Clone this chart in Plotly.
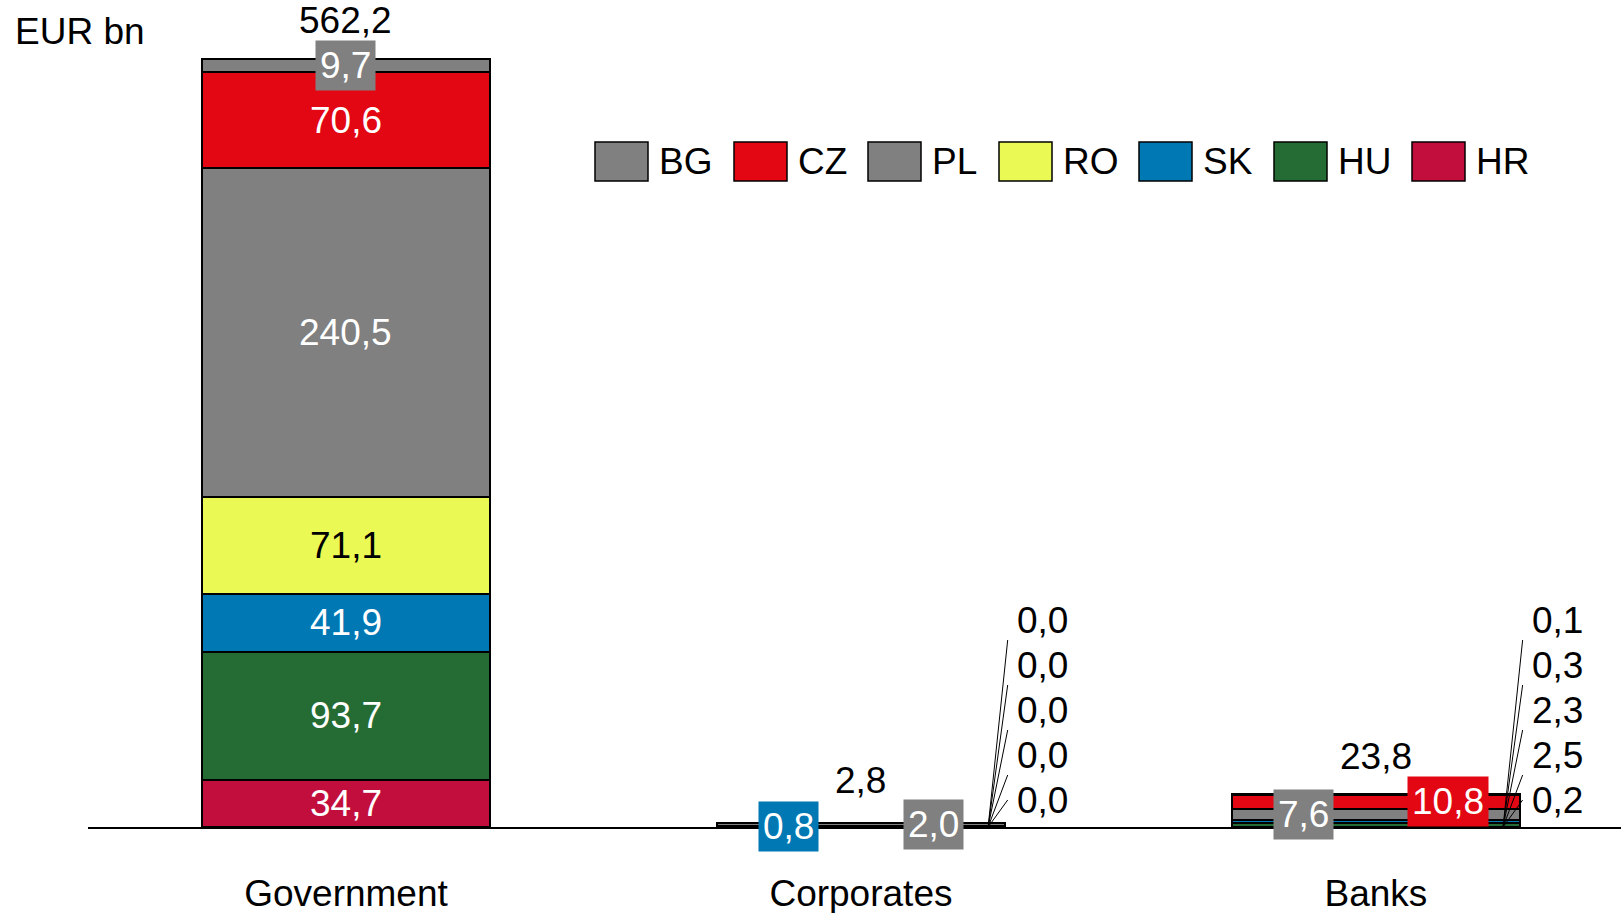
import plotly.graph_objects as go

# Exposure by sector, EUR bn
categories = ["Government", "Corporates", "Banks"]
hr = [34.7, 0.0, 0.2]
hu = [93.7, 0.0, 2.5]
sk = [41.9, 0.8, 2.3]
ro = [71.1, 0.0, 0.3]
pl = [240.5, 2.0, 7.6]
cz = [70.6, 0.0, 10.8]
bg = [9.7, 0.0, 0.1]
totals = [562.2, 2.8, 23.8]

# stacking order, bottom to top
stack = [("HR", hr), ("HU", hu), ("SK", sk), ("RO", ro), ("PL", pl), ("CZ", cz), ("BG", bg)]
legend_order = ["BG", "CZ", "PL", "RO", "SK", "HU", "HR"]

colors = {
    "BG": "#808080",
    "CZ": "#E30613",
    "PL": "#808080",
    "RO": "#EBF954",
    "SK": "#0078B4",
    "HU": "#246C34",
    "HR": "#C20E3C",
}

# labels drawn in a box beside the bar (left, right); the rest use leader lines
boxed_side = {1: ("SK", "PL"), 2: ("PL", "CZ")}

FONT = "Liberation Sans, Arial, sans-serif"
FS = 37

# plot geometry (pixels)
W, H = 1621, 913
ML, MR, MT, MB = 88, 0, 7, 86
PW, PH = W - ML - MR, H - MT - MB
Y_MAX = 600
X_RANGE = [-0.501, 2.476]
PX_PER_UNIT = PH / Y_MAX


def fmt(v):
    return f"{v:.1f}".replace(".", ",")


def px_to_units(p):
    return p / PX_PER_UNIT


def paper_x(px):
    return (px - ML) / PW


def paper_y(py):
    return (H - MB - py) / PH


fig = go.Figure()
xs = list(range(len(categories)))
for name, vals in stack:
    fig.add_trace(go.Bar(
        x=xs, y=vals, name=name, width=0.56,
        marker=dict(color=colors[name], line=dict(color="black", width=2)),
        showlegend=False, hoverinfo="skip",
    ))

annotations = []
shapes = []

# segment midpoints
mids = {}
for i in xs:
    base = 0.0
    for name, vals in stack:
        v = vals[i]
        mids[(name, i)] = base + v / 2
        base += v

# Government: labels inside each segment
for name, vals in stack:
    v = vals[0]
    boxed = name == "BG"
    annotations.append(dict(
        x=0, y=mids[(name, 0)], text=fmt(v), showarrow=False,
        font=dict(family=FONT, size=FS, color="black" if name == "RO" else "white"),
        bgcolor=colors[name] if boxed else None, borderpad=4,
        xanchor="center", yanchor="middle",
    ))

# Corporates and Banks: boxed labels beside the bar and leader-line labels
for i, (left, right) in boxed_side.items():
    for name, dx in ((left, -0.14), (right, 0.14)):
        v = dict(stack)[name][i]
        annotations.append(dict(
            x=i + dx, y=mids[(name, i)], text=fmt(v), showarrow=False,
            font=dict(family=FONT, size=FS, color="white"),
            bgcolor=colors[name], borderpad=4,
            xanchor="center", yanchor="middle",
        ))
    small = [name for name, _ in stack if name not in (left, right)]
    for k, name in enumerate(small):
        v = dict(stack)[name][i]
        centre_px = 27 + 45 * k
        end_px = centre_px if k == 0 else centre_px - 20
        shapes.append(dict(
            type="line", xref="x", yref="y",
            x0=i + 0.247, y0=0, x1=i + 0.285, y1=px_to_units(end_px),
            line=dict(color="black", width=1),
        ))
        annotations.append(dict(
            x=i + 0.300, y=px_to_units(centre_px), text=fmt(v), showarrow=False,
            font=dict(family=FONT, size=FS, color="black"),
            xanchor="left", yanchor="middle",
        ))

# totals above bars
for i, t in enumerate(totals):
    annotations.append(dict(
        x=i, y=t, text=fmt(t), showarrow=False, yshift=38 if t > 5 else 43,
        font=dict(family=FONT, size=FS, color="black"),
        xanchor="center", yanchor="middle",
    ))

# unit label
annotations.append(dict(
    xref="paper", yref="paper", x=paper_x(13), y=paper_y(31), text="EUR bn",
    showarrow=False, xanchor="left", yanchor="middle",
    font=dict(family=FONT, size=FS, color="black"),
))

# legend
legend_left = [595, 734, 868, 999, 1139, 1274, 1412]
for name, lx in zip(legend_order, legend_left):
    shapes.append(dict(
        type="rect", xref="paper", yref="paper",
        x0=paper_x(lx), x1=paper_x(lx + 53), y0=paper_y(181), y1=paper_y(142),
        fillcolor=colors[name], line=dict(color="black", width=1.5),
    ))
    annotations.append(dict(
        xref="paper", yref="paper", x=paper_x(lx + 62), y=paper_y(162), text=name,
        showarrow=False, xanchor="left", yanchor="middle",
        font=dict(family=FONT, size=FS, color="black"),
    ))

fig.update_layout(
    barmode="stack",
    width=W, height=H,
    margin=dict(l=ML, r=MR, t=MT, b=MB, autoexpand=False),
    paper_bgcolor="white", plot_bgcolor="white",
    xaxis=dict(
        range=X_RANGE, tickvals=xs, ticktext=categories,
        showline=True, linecolor="black", linewidth=2,
        showgrid=False, zeroline=False, ticks="", ticklabelstandoff=33,
        tickfont=dict(family=FONT, size=FS, color="black"), automargin=False,
    ),
    yaxis=dict(range=[0, Y_MAX], visible=False, showgrid=False, zeroline=False),
    annotations=annotations,
    shapes=shapes,
    showlegend=False,
)

fig.write_html("out.html")
